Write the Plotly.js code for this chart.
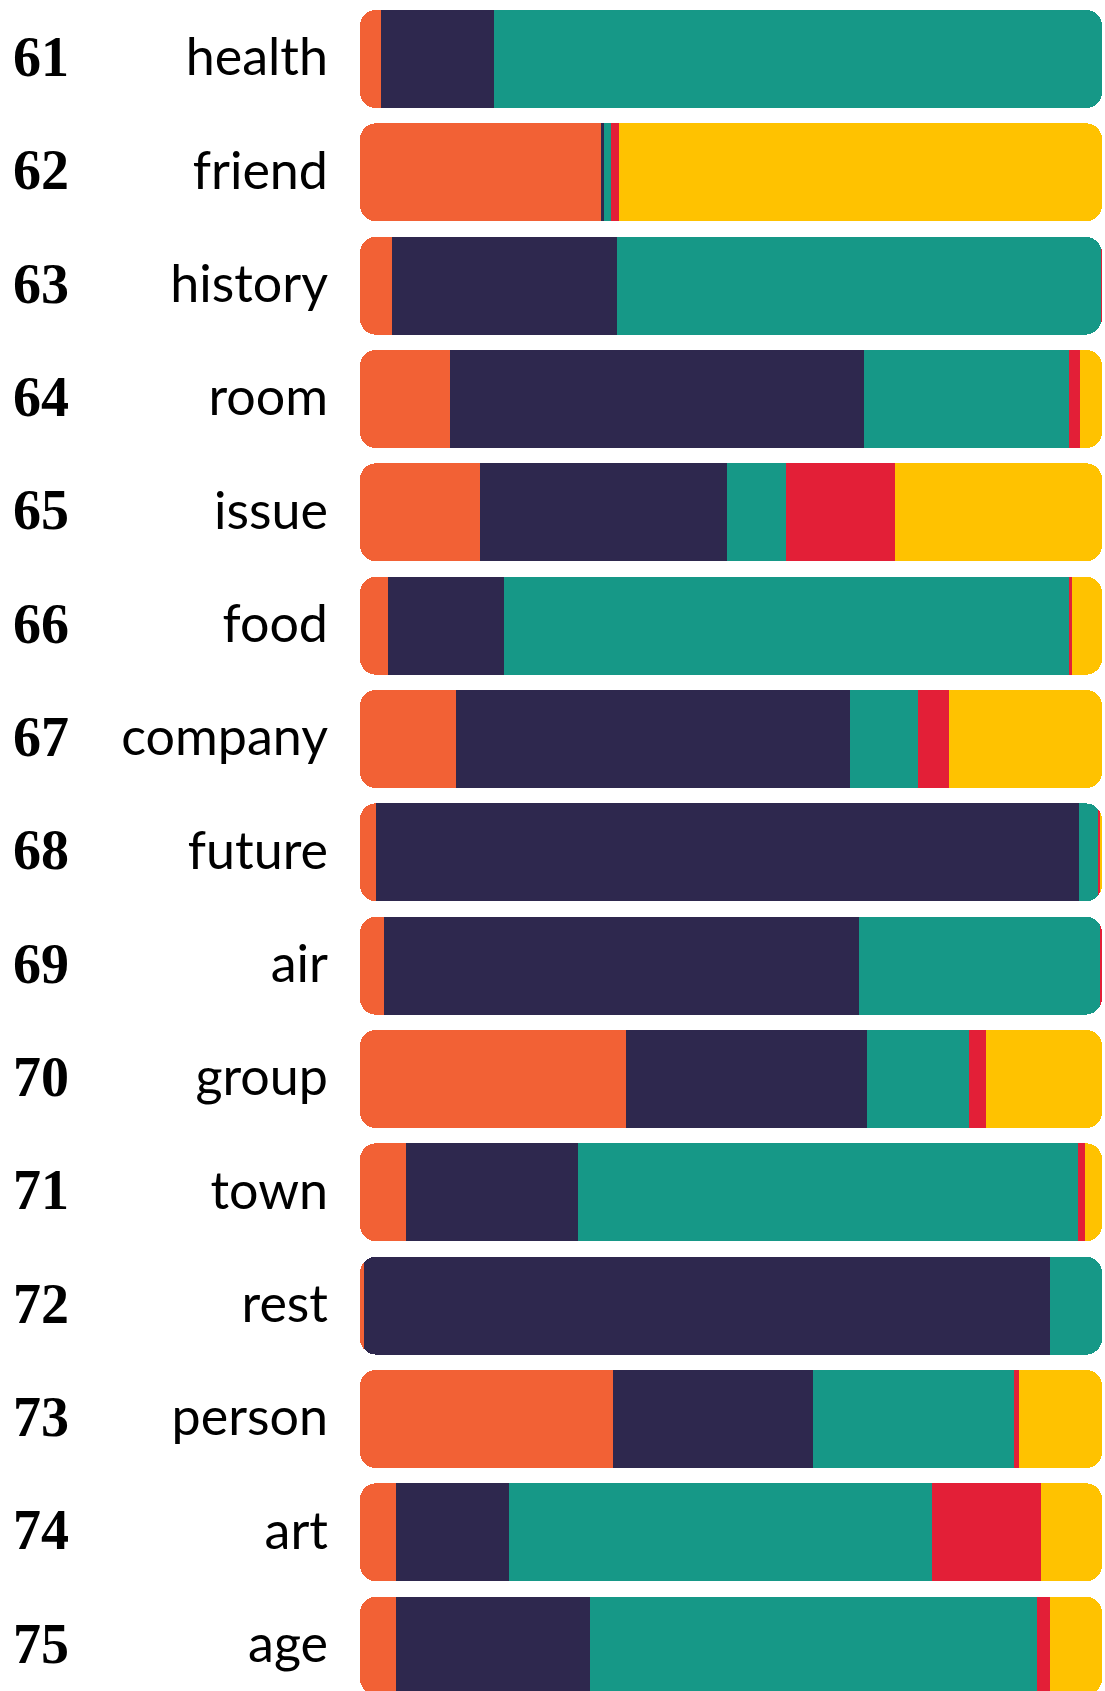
<!DOCTYPE html>
<html>
<head>
<meta charset="utf-8">
<script src="https://cdn.plot.ly/plotly-3.0.1.min.js"></script>
<style>
  html, body { margin: 0; padding: 0; background: #ffffff; }
  #chart { width: 1105px; height: 1691px; }
</style>
</head>
<body>
<div id="chart"></div>
<script>
// ---- data (percent of each bar) ----
var words  = ['health','friend','history','room','issue','food','company','future','air','group','town','rest','person','art','age'];
var ranks  = ['61','62','63','64','65','66','67','68','69','70','71','72','73','74','75'];
var orange = [2.8, 32.5, 4.3, 12.1, 16.2, 3.8, 13.0, 2.1, 3.2, 35.9, 6.2, 0.6, 34.1, 4.8, 4.8];
var navy   = [15.3, 0.4, 30.3, 55.8, 33.2, 15.6, 53.1, 94.8, 64.0, 32.4, 23.2, 92.4, 26.9, 15.3, 26.2];
var teal   = [81.9, 0.9, 65.2, 27.7, 8.0, 76.2, 9.1, 2.5, 32.5, 13.8, 67.4, 7.0, 27.1, 57.0, 60.2];
var red    = [0, 1.1, 0.2, 1.5, 14.7, 0.4, 4.2, 0.3, 0.3, 2.3, 0.9, 0, 0.7, 14.7, 1.8];
var yellow = [0, 65.1, 0, 2.9, 27.9, 4.0, 20.6, 0.3, 0, 15.6, 2.3, 0, 11.2, 8.2, 7.0];

var seriesVals   = [orange, navy, teal, red, yellow];
var seriesColors = ['#F26135', '#2E284E', '#169887', '#E31F37', '#FFC200'];
var seriesNames  = ['orange', 'navy', 'teal', 'red', 'yellow'];

// Each bar is drawn as two stacks meeting at SPLIT so both outer ends can be rounded.
var SPLIT = 50;
var leftParts = seriesVals.map(function(){ return []; });
var rightParts = seriesVals.map(function(){ return []; });
for (var i = 0; i < words.length; i++) {
  var cum = 0;
  for (var k = 0; k < seriesVals.length; k++) {
    var s0 = cum, s1 = cum + seriesVals[k][i];
    cum = s1;
    leftParts[k].push(Math.max(0, Math.min(s1, SPLIT) - s0));
    rightParts[k].push(Math.max(0, s1 - Math.max(s0, SPLIT)));
  }
}

var traces = [];
// right half (main x axis), stacked outward from the split to the right
for (var k = 0; k < seriesVals.length; k++) {
  traces.push({
    type: 'bar', orientation: 'h', name: seriesNames[k],
    y: words, x: rightParts[k], xaxis: 'x', yaxis: 'y',
    marker: { color: seriesColors[k], line: { width: 0 } },
    hoverinfo: 'skip', showlegend: false
  });
}
// left half (reversed x axis), stacked outward from the split to the left
for (var k = seriesVals.length - 1; k >= 0; k--) {
  traces.push({
    type: 'bar', orientation: 'h', name: seriesNames[k],
    y: words, x: leftParts[k], xaxis: 'x2', yaxis: 'y',
    marker: { color: seriesColors[k], line: { width: 0 } },
    hoverinfo: 'skip', showlegend: false
  });
}

var annotations = ranks.map(function(r, i) {
  return {
    text: r, xref: 'paper', yref: 'y', x: -0.4700, y: words[i],
    xanchor: 'left', yanchor: 'middle', showarrow: false,
    font: { family: '"Liberation Serif", "DejaVu Serif", serif', size: 56, color: '#000000', weight: 'bold' },
    yshift: 2
  };
});

var layout = {
  width: 1105, height: 1691,
  margin: { l: 360, r: 3, t: 0, b: 0, pad: 0 },
  paper_bgcolor: '#ffffff', plot_bgcolor: '#ffffff',
  barmode: 'stack',
  bargap: 0.135,
  barcornerradius: 16,
  showlegend: false,
  xaxis: { range: [-SPLIT, 100 - SPLIT], visible: false, fixedrange: true },
  xaxis2: { range: [SPLIT, SPLIT - 100], overlaying: 'x', visible: false, fixedrange: true },
  yaxis: {
    type: 'category', categoryorder: 'array', categoryarray: words,
    range: [14.40, -0.5206],
    showgrid: false, zeroline: false, showline: false, ticks: '',
    ticklabelstandoff: 31,
    ticklabelshift: 2,
    tickfont: { family: 'Lato, "Open Sans", sans-serif', size: 52, color: '#000000' },
    fixedrange: true
  },
  annotations: annotations
};

Plotly.newPlot('chart', traces, layout, { displayModeBar: false, staticPlot: true });
</script>
</body>
</html>
